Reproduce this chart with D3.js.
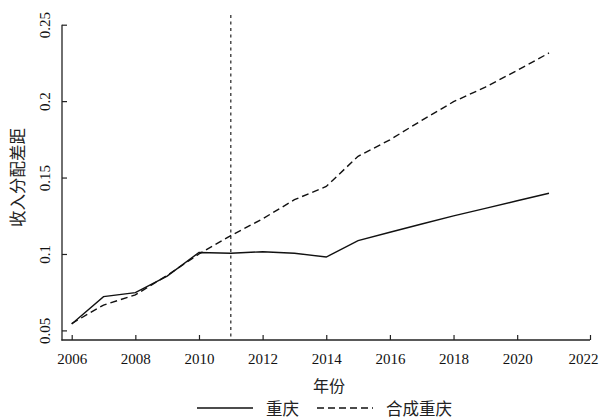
<!DOCTYPE html>
<html>
<head>
<meta charset="utf-8">
<script src="https://cdn.jsdelivr.net/npm/d3@7"></script>
<style>
  html, body { margin: 0; padding: 0; background: #fff; }
  svg { display: block; }
</style>
</head>
<body>
<svg id="chart" width="601" height="420"></svg>
<script>
// ---- data ----
const years = [2006, 2007, 2008, 2009, 2010, 2011, 2012, 2013, 2014, 2015, 2016, 2017, 2018, 2019, 2020, 2021];
const chongqing = [0.0542, 0.0721, 0.0747, 0.0855, 0.1010, 0.1005, 0.1015, 0.1005, 0.0980, 0.1087, 0.1142, 0.1196, 0.1249, 0.1298, 0.1348, 0.1397];
const synthetic = [0.0545, 0.0666, 0.0732, 0.0860, 0.1000, 0.1120, 0.1230, 0.1355, 0.1442, 0.1639, 0.1747, 0.1874, 0.1996, 0.2092, 0.2201, 0.2315];
const xTicks = [2006, 2008, 2010, 2012, 2014, 2016, 2018, 2020, 2022];
const yTicks = [0.05, 0.1, 0.15, 0.2, 0.25];
const yTickLabels = ["0.05", "0.1", "0.15", "0.2", "0.25"];
const treatYear = 2011;
const seriesNames = ["重庆", "合成重庆"];
const xTitle = "年份";
const yTitle = "收入分配差距";

// ---- layout ----
const svg = d3.select("#chart");
const axisX0 = 62, axisX1 = 590, axisYBottom = 340, axisYTop = 24.7;
const x = d3.scaleLinear().domain([2006, 2021, 2022]).range([71.7, 549, 590]);
const y = d3.scaleLinear().domain([0.05, 0.25]).range([330.4, 24.7]);
const numFont = "'Liberation Serif', 'Times New Roman', serif";
const cjkFont = "'Noto Sans CJK SC', 'Noto Sans CJK JP', sans-serif";
const axisColor = "#222";

// axis lines
svg.append("line").attr("x1", axisX0).attr("x2", axisX0).attr("y1", axisYTop).attr("y2", axisYBottom + 0.6)
  .attr("stroke", axisColor).attr("stroke-width", 1.3);
svg.append("line").attr("x1", axisX0 - 0.6).attr("x2", axisX1).attr("y1", axisYBottom).attr("y2", axisYBottom)
  .attr("stroke", axisColor).attr("stroke-width", 1.3);

// x axis
const gx = svg.append("g").attr("transform", `translate(0,${axisYBottom})`)
  .call(d3.axisBottom(x).tickValues(xTicks).tickFormat(d3.format("d")).tickSize(-5).tickSizeOuter(0));
gx.select(".domain").remove();
gx.selectAll(".tick line").attr("stroke", axisColor).attr("stroke-width", 1.2);
gx.selectAll(".tick text").attr("y", 24).attr("dy", 0)
  .attr("x", d => d === 2022 ? -7 : 0)
  .attr("font-family", numFont).attr("font-size", 15).attr("fill", "#111");

// y axis
const gy = svg.append("g").attr("transform", `translate(${axisX0},0)`)
  .call(d3.axisLeft(y).tickValues(yTicks).tickFormat((d, i) => yTickLabels[i]).tickSize(-5).tickSizeOuter(0));
gy.select(".domain").remove();
gy.selectAll(".tick line").attr("stroke", axisColor).attr("stroke-width", 1.2);
gy.selectAll(".tick text")
  .attr("x", null).attr("dy", 0)
  .attr("transform", "translate(-12,0) rotate(-90)")
  .attr("text-anchor", "middle")
  .attr("font-family", numFont).attr("font-size", 15).attr("fill", "#111");

// treatment line
svg.append("line")
  .attr("x1", x(treatYear)).attr("x2", x(treatYear))
  .attr("y1", 15).attr("y2", axisYBottom)
  .attr("stroke", "#333").attr("stroke-width", 1.3).attr("stroke-dasharray", "3,3.5");

// series
const line = d3.line().x((d, i) => x(years[i])).y(d => y(d));
svg.append("path").datum(chongqing).attr("d", line)
  .attr("fill", "none").attr("stroke", "#111").attr("stroke-width", 1.4);
svg.append("path").datum(synthetic).attr("d", line)
  .attr("fill", "none").attr("stroke", "#111").attr("stroke-width", 1.4).attr("stroke-dasharray", "7,4");

// titles
svg.append("text").attr("x", 329).attr("y", 385).attr("text-anchor", "middle")
  .attr("dominant-baseline", "central")
  .attr("font-family", cjkFont).attr("font-size", 16).attr("fill", "#222").text(xTitle);
svg.append("text").attr("transform", "translate(17,177.5) rotate(-90)").attr("text-anchor", "middle")
  .attr("dominant-baseline", "central")
  .attr("font-family", cjkFont).attr("font-size", 16.5).attr("fill", "#222").text(yTitle);

// legend
const legY = 408;
const legend = [
  { x1: 197, x2: 253, tx: 266, dash: null, name: seriesNames[0] },
  { x1: 317, x2: 373, tx: 386, dash: "7,4", name: seriesNames[1] }
];
legend.forEach(l => {
  svg.append("line").attr("x1", l.x1).attr("x2", l.x2).attr("y1", legY).attr("y2", legY)
    .attr("stroke", "#111").attr("stroke-width", 1.4).attr("stroke-dasharray", l.dash);
  svg.append("text").attr("x", l.tx).attr("y", legY).attr("dominant-baseline", "central")
    .attr("font-family", cjkFont).attr("font-size", 16.5).attr("fill", "#222").text(l.name);
});
</script>
</body>
</html>
